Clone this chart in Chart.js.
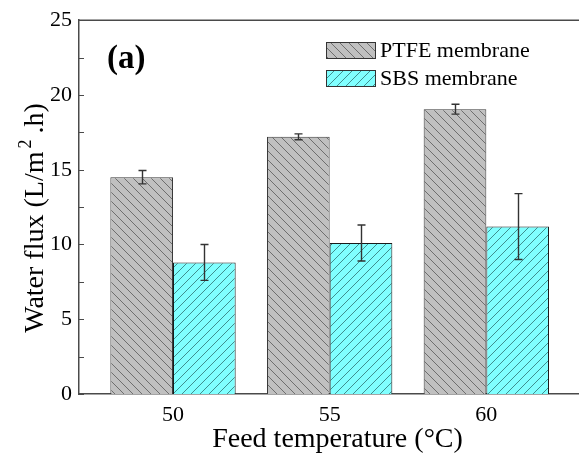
<!DOCTYPE html>
<html>
<head>
<meta charset="utf-8">
<script src="https://cdn.jsdelivr.net/npm/chart.js@4.4.1/dist/chart.umd.min.js"></script>
<style>
  html, body { margin: 0; padding: 0; background: #fff; overflow: hidden; }
  #wrap { width: 579px; height: 456px; overflow: hidden; }
</style>
</head>
<body>
<div id="wrap"><canvas id="c" width="596" height="456"></canvas></div>
<script>
// Feed temperatures (°C) and measured water flux (L/m².h)
const temperatures = [50, 55, 60];
const ptfeFlux = [14.5, 17.2, 19.05];
const ptfeErr = [0.45, 0.2, 0.33];
const sbsFlux = [8.8, 10.1, 11.2];
const sbsErr = [1.2, 1.2, 2.2];
const xTicks = [50, 55, 60];
const yTicks = [0, 5, 10, 15, 20, 25];
const seriesNames = ['PTFE membrane', 'SBS membrane'];

const FONT = '"Liberation Serif", "Times New Roman", serif';
const AXIS_COLOR = '#4a4a4a';

// Diagonal hatch fill: dir = 1 draws "\" lines, dir = -1 draws "/" lines
function hatch(bg, lineColor, dir, size) {
  const c = document.createElement('canvas');
  c.width = size; c.height = size;
  const g = c.getContext('2d');
  g.fillStyle = bg;
  g.fillRect(0, 0, size, size);
  g.strokeStyle = lineColor;
  g.lineWidth = 1;
  g.beginPath();
  for (let k = -1; k <= 1; k++) {
    if (dir > 0) {
      g.moveTo(k * size, 0); g.lineTo(k * size + size, size);
    } else {
      g.moveTo(k * size, size); g.lineTo(k * size + size, 0);
    }
  }
  g.stroke();
  return g.createPattern(c, 'repeat');
}

const ptfeFill = hatch('#c0c0c0', '#6e6e6e', 1, 9);
const sbsFill = hatch('#80ffff', '#3f8f8f', -1, 9);

// Error bars, drawn from the same value arrays via the scales
const errorBars = {
  id: 'errorBars',
  afterDatasetsDraw(chart) {
    const ctx = chart.ctx;
    const ys = chart.scales.y;
    ctx.save();
    ctx.strokeStyle = '#333';
    ctx.lineWidth = 1.4;
    chart.data.datasets.forEach((ds, di) => {
      const meta = chart.getDatasetMeta(di);
      meta.data.forEach((bar, i) => {
        const v = ds.data[i].y, e = ds.errors[i];
        const x = Math.round(bar.x) + 0.5;
        const yTop = ys.getPixelForValue(v + e);
        const yBot = ys.getPixelForValue(v - e);
        ctx.beginPath();
        ctx.moveTo(x, yTop); ctx.lineTo(x, yBot);
        ctx.moveTo(x - 4, yTop); ctx.lineTo(x + 4, yTop);
        ctx.moveTo(x - 4, yBot); ctx.lineTo(x + 4, yBot);
        ctx.stroke();
      });
    });
    ctx.restore();
  }
};

// Inward y ticks, top frame line, y title with superscript, panel tag and legend
const frame = {
  id: 'frame',
  afterDraw(chart) {
    const ctx = chart.ctx;
    const a = chart.chartArea;
    const ys = chart.scales.y;
    ctx.save();
    ctx.strokeStyle = AXIS_COLOR;
    ctx.lineWidth = 1.5;
    ctx.beginPath();
    ctx.moveTo(a.left, a.top);
    ctx.lineTo(a.right, a.top);
    ctx.stroke();
    ctx.lineWidth = 1;
    ys.ticks.forEach(t => {
      const y = Math.round(ys.getPixelForValue(t.value)) + 0.5;
      ctx.beginPath();
      ctx.moveTo(a.left, y);
      ctx.lineTo(a.left + 5, y);
      ctx.stroke();
    });

    // y-axis title: Water flux (L/m2.h) with a raised 2
    ctx.fillStyle = '#000';
    ctx.textBaseline = 'alphabetic';
    ctx.textAlign = 'left';
    const mainFont = '28px ' + FONT, supFont = '18px ' + FONT;
    const p1 = 'Water flux (L/m', p2 = '2', p3 = '.h)';
    ctx.font = mainFont;
    const w1 = ctx.measureText(p1).width, w3 = ctx.measureText(p3).width;
    ctx.font = supFont;
    const w2 = ctx.measureText(p2).width;
    const total = w1 + 3 + w2 + 6 + w3;
    ctx.translate(43, 218);
    ctx.rotate(-Math.PI / 2);
    let cx = -total / 2;
    ctx.font = mainFont; ctx.fillText(p1, cx, 0); cx += w1 + 3;
    ctx.font = supFont; ctx.fillText(p2, cx, -12); cx += w2 + 6;
    ctx.font = mainFont; ctx.fillText(p3, cx, 0);
    ctx.setTransform(1, 0, 0, 1, 0, 0);

    // panel tag
    ctx.font = 'bold 33px ' + FONT;
    ctx.textBaseline = 'middle';
    ctx.fillText('(a)', 107, 59);

    // legend
    const lx = 326, ly = 42, bw = 49, bh = 16, gap = 28;
    ctx.font = '22px ' + FONT;
    chart.data.datasets.forEach((ds, i) => {
      const y = ly + i * gap;
      ctx.fillStyle = ds.backgroundColor;
      ctx.fillRect(lx, y, bw, bh);
      ctx.strokeStyle = '#333';
      ctx.lineWidth = 1;
      ctx.strokeRect(lx + 0.5, y + 0.5, bw, bh);
      ctx.fillStyle = '#000';
      ctx.fillText(ds.label, lx + bw + 5, y + bh / 2 + 1);
    });
    ctx.restore();
  }
};

new Chart(document.getElementById('c'), {
  type: 'bar',
  data: {
    datasets: [
      {
        label: seriesNames[0],
        data: temperatures.map((t, i) => ({ x: t, y: ptfeFlux[i] })),
        errors: ptfeErr,
        backgroundColor: ptfeFill,
        borderColor: '#3a3a3a',
        borderWidth: 1
      },
      {
        label: seriesNames[1],
        data: temperatures.map((t, i) => ({ x: t, y: sbsFlux[i] })),
        errors: sbsErr,
        backgroundColor: sbsFill,
        borderColor: '#1a1a1a',
        borderWidth: 1
      }
    ]
  },
  options: {
    responsive: false,
    animation: false,
    devicePixelRatio: 1,
    categoryPercentage: 0.8,
    barPercentage: 1.0,
    layout: { padding: { top: 20, right: 0, left: 0, bottom: 0 } },
    plugins: {
      legend: { display: false },
      tooltip: { enabled: false }
    },
    scales: {
      x: {
        type: 'linear',
        offset: false,
        min: 47,
        max: 63.5,
        afterBuildTicks: s => { s.ticks = xTicks.map(v => ({ value: v })); },
        afterFit: s => { s.height = 62; },
        grid: { display: false, drawTicks: false, offset: false },
        border: { display: true, color: AXIS_COLOR, width: 1.5 },
        ticks: { color: '#000', font: { family: FONT, size: 22 }, padding: 8 },
        title: {
          display: true,
          text: 'Feed temperature (°C)',
          color: '#000',
          font: { family: FONT, size: 28 },
          padding: { top: 0, bottom: 0 }
        }
      },
      y: {
        min: 0,
        max: 25,
        afterBuildTicks: s => {
          const list = [];
          yTicks.forEach((v, i) => {
            list.push({ value: v });
            if (i < yTicks.length - 1) list.push({ value: (v + yTicks[i + 1]) / 2 });
          });
          s.ticks = list;
        },
        afterFit: s => { s.width = 79; },
        grid: { display: false, drawTicks: false },
        border: { display: true, color: AXIS_COLOR, width: 1.5 },
        ticks: {
          color: '#000',
          font: { family: FONT, size: 22 },
          padding: 7,
          callback: v => (yTicks.includes(v) ? String(v) : '')
        },
        title: { display: false }
      }
    }
  },
  plugins: [errorBars, frame]
});
</script>
</body>
</html>
